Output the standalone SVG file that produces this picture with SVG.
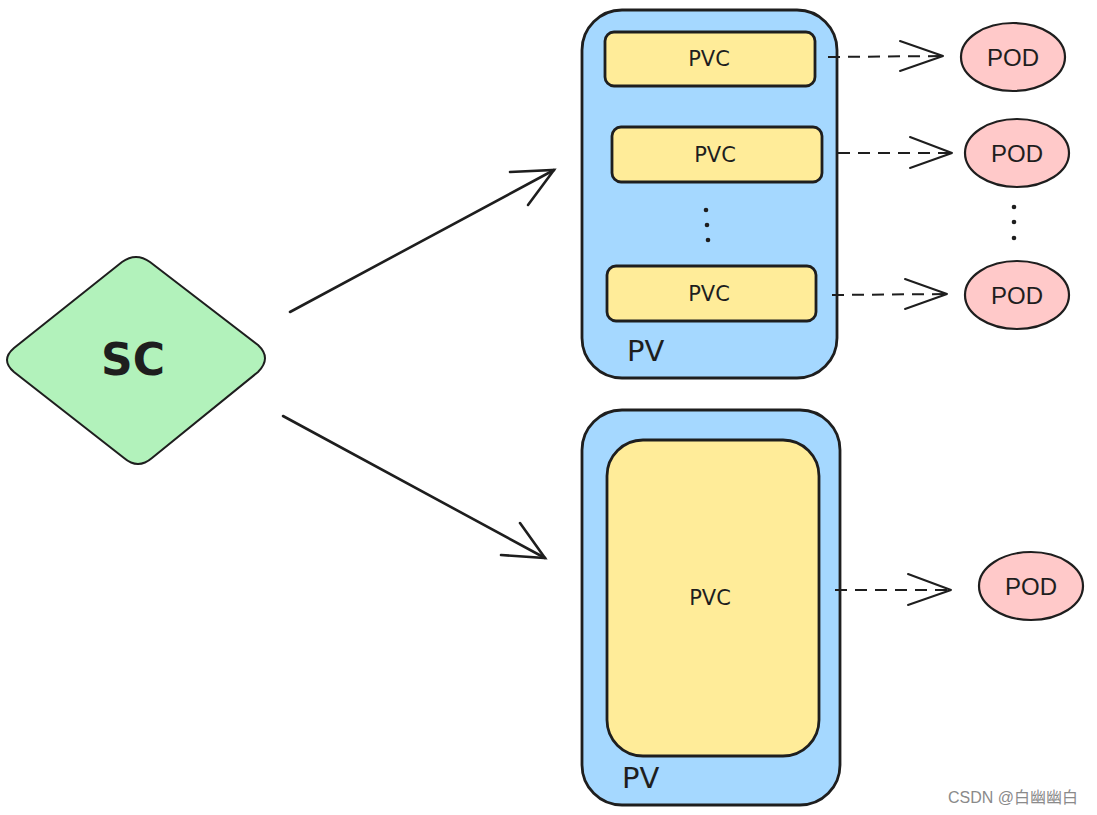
<svg xmlns="http://www.w3.org/2000/svg" width="1097" height="815" viewBox="0 0 1097 815">
<style>
.pv{fill:#a5d8ff;stroke:#1e1e1e;stroke-width:2.8}
.pvc{fill:#ffec99;stroke:#1e1e1e;stroke-width:2.8}
.pod{fill:#ffc9c9;stroke:#1e1e1e;stroke-width:2.2}
.hand{font-family:"DejaVu Sans","Liberation Sans",sans-serif;fill:#1e1e1e}
.podt{font-family:"Liberation Sans",Arial,sans-serif;font-size:24px;fill:#1e1e1e;text-anchor:middle}
.solid{stroke:#1e1e1e;stroke-width:2.6;fill:none;stroke-linecap:round}
.dash{stroke:#1e1e1e;stroke-width:2;fill:none;stroke-dasharray:12 8}
.head{stroke:#1e1e1e;stroke-width:2;fill:none;stroke-linecap:round;stroke-linejoin:round}
.dot{fill:#1e1e1e}
</style>
<rect width="1097" height="815" fill="#ffffff"/>
<g id="sc">
<path d="M122,262 Q136,252 150,262 L258,345 Q272,358 258,372 L152,458 Q138,470 124,458 L14,372 Q0,360 14,348 Z" fill="#b2f2bb" stroke="#1e1e1e" stroke-width="2"/>
<text x="133" y="375" class="hand" font-size="44" font-weight="bold" text-anchor="middle">SC</text>
</g>
<g id="pv1">
<rect x="582" y="10" width="255" height="368" rx="40" class="pv"/>
<text x="627" y="361" class="hand" font-size="29">PV</text>
</g>
<g id="pvc1">
<rect x="605" y="32" width="210" height="54" rx="9" class="pvc"/>
<text x="709" y="66" class="hand" font-size="21" text-anchor="middle">PVC</text>
</g>
<g id="pvc2">
<rect x="612" y="127" width="210" height="55" rx="9" class="pvc"/>
<text x="715" y="162" class="hand" font-size="21" text-anchor="middle">PVC</text>
</g>
<g id="dots1">
<circle cx="706" cy="210" r="2.3" class="dot"/>
<circle cx="707" cy="225" r="2.3" class="dot"/>
<circle cx="708" cy="240" r="2.3" class="dot"/>
</g>
<g id="pvc3">
<rect x="607" y="266" width="209" height="55" rx="9" class="pvc"/>
<text x="709" y="301" class="hand" font-size="21" text-anchor="middle">PVC</text>
</g>
<g id="pv2">
<rect x="582" y="410" width="258" height="395" rx="40" class="pv"/>
<text x="622" y="788" class="hand" font-size="29">PV</text>
</g>
<g id="pvc4">
<rect x="607" y="440" width="212" height="316" rx="36" class="pvc"/>
<text x="710" y="605" class="hand" font-size="21" text-anchor="middle">PVC</text>
</g>
<g id="pod1">
<ellipse cx="1013" cy="57" rx="52" ry="34" class="pod"/>
<text x="1013" y="66" class="podt">POD</text>
</g>
<g id="pod2">
<ellipse cx="1017" cy="153" rx="52" ry="34" class="pod"/>
<text x="1017" y="162" class="podt">POD</text>
</g>
<g id="dots2">
<circle cx="1014" cy="207" r="2.3" class="dot"/>
<circle cx="1014" cy="222" r="2.3" class="dot"/>
<circle cx="1014" cy="238" r="2.3" class="dot"/>
</g>
<g id="pod3">
<ellipse cx="1017" cy="295" rx="52" ry="34" class="pod"/>
<text x="1017" y="304" class="podt">POD</text>
</g>
<g id="pod4">
<ellipse cx="1031" cy="586" rx="52" ry="34" class="pod"/>
<text x="1031" y="595" class="podt">POD</text>
</g>
<g id="connectors">
<line x1="290" y1="312" x2="554" y2="170" class="solid"/>
<polyline points="510,172 554,170 528,205" class="solid"/>
<line x1="283" y1="416" x2="545" y2="558" class="solid"/>
<polyline points="520,523 545,558 501,555" class="solid"/>
<line x1="828" y1="57" x2="943" y2="56" class="dash"/>
<polyline points="900,41 943,56 900,71" class="head"/>
<line x1="838" y1="153" x2="952" y2="153" class="dash"/>
<polyline points="910,137 952,153 910,168" class="head"/>
<line x1="832" y1="295" x2="947" y2="294" class="dash"/>
<polyline points="905,279 947,294 905,309" class="head"/>
<line x1="835" y1="590" x2="951" y2="590" class="dash"/>
<polyline points="908,574 951,590 908,605" class="head"/>
</g>
<text x="948" y="803" font-family="'Liberation Sans','Noto Sans CJK SC',sans-serif" font-size="16" fill="#8a8a8a">CSDN @白幽幽白</text>
</svg>
